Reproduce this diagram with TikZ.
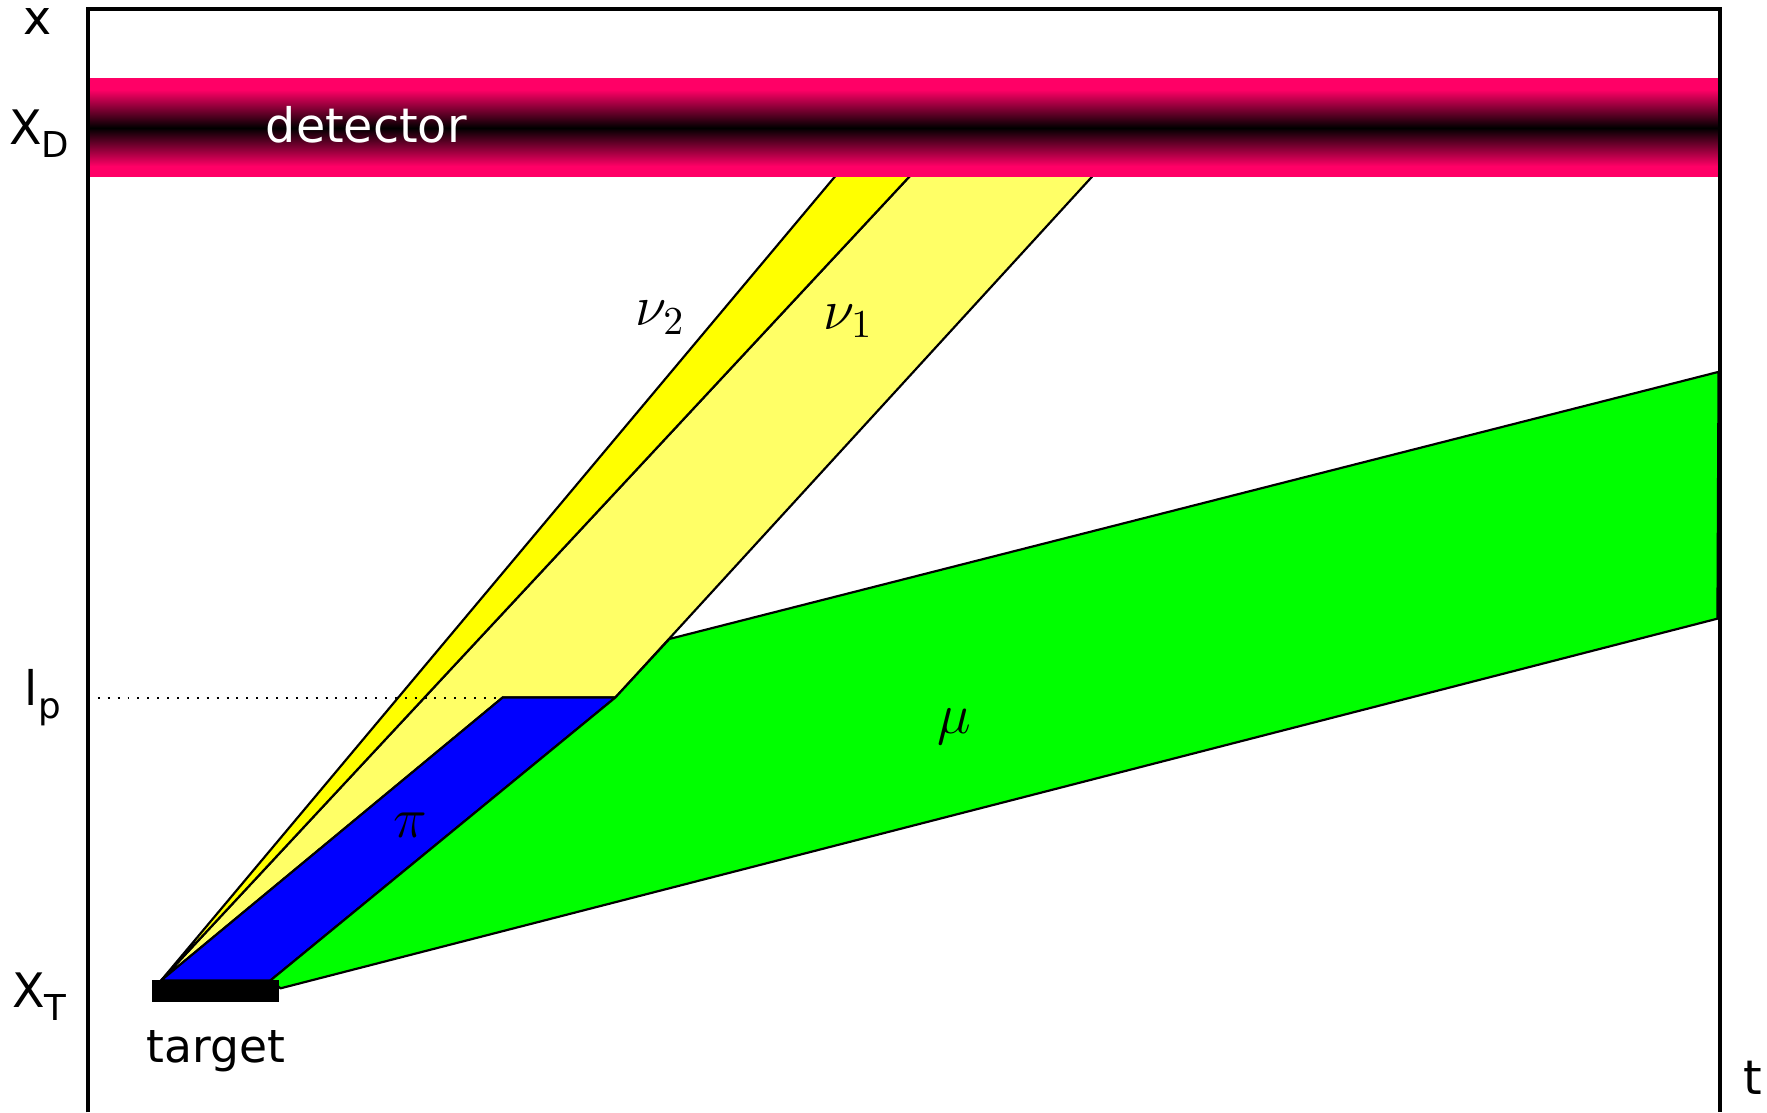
\documentclass[tikz,border=0pt]{standalone}
\usepackage{fontspec}
\setmainfont{DejaVu Sans}
\usetikzlibrary{positioning}
\definecolor{detpink}{RGB}{255,0,102}
\definecolor{nutwo}{RGB}{255,255,0}
\definecolor{nuone}{RGB}{255,255,102}
\definecolor{pion}{RGB}{0,0,255}
\definecolor{muon}{RGB}{0,255,0}
\pgfdeclareverticalshading{detshade}{100bp}{color(0bp)=(detpink); color(25bp)=(detpink);
  color(30.5bp)=(detpink); color(50bp)=(black); color(69.5bp)=(detpink);
  color(75bp)=(detpink); color(100bp)=(detpink)}

\begin{document}
\begin{tikzpicture}[
    beam/.style={draw=black, line width=0.55pt, line join=miter},
    axislabel/.style={font=\fontsize{12}{14}\selectfont, inner sep=0pt},
    greek/.style={font=\fontsize{14}{16}\selectfont, inner sep=0pt}]
    \useasboundingbox (0,0) rectangle (15.68,9.87);

    % corner points of the beams
    \coordinate (O)   at (1.43,1.17);
    \coordinate (B1)  at (2.40,1.17);
    \coordinate (B2)  at (5.46,3.68);
    \coordinate (B3)  at (4.46,3.68);
    \coordinate (nuA) at (7.49,8.40);
    \coordinate (nuB) at (8.16,8.40);
    \coordinate (nuC) at (9.78,8.40);
    \coordinate (G1)  at (5.94,4.20);
    \coordinate (G2)  at (15.25,6.57);
    \coordinate (G3)  at (15.24,4.38);
    \coordinate (G4)  at (2.49,1.10);
    \coordinate (lpaxis) at (0.78,3.68);

    % neutrino beams
    \filldraw[beam, fill=nuone] (O) -- (nuB) -- (nuC) -- (B2) -- (B3) -- cycle;
    \filldraw[beam, fill=nutwo] (O) -- (nuA) -- (nuB) -- cycle;
    \draw[dotted, line width=0.5pt] (lpaxis) -- (B3);

    % pion and muon
    \filldraw[beam, fill=pion] (O) -- (B1) -- (B2) -- (B3) -- cycle;
    \filldraw[beam, fill=muon] (B1) -- (B2) -- (G1) -- (G2) -- (G3) -- (G4) -- cycle;

    % target
    \node[fill=black, minimum width=1.13cm, minimum height=0.19cm, inner sep=0pt]
        (target) at (1.915,1.075) {};
    \node[axislabel, font=\fontsize{11.5}{14}\selectfont, below=2.4mm of target] (targetlabel) {target};

    % detector band
    \shade[shading=detshade] (0.78,8.30) rectangle (15.26,9.17);
    \node[axislabel, text=white] (detlabel) at (3.25,8.76) {detector};

    % frame
    \draw[line width=1.1pt] (0.78,0) -- (0.78,9.79) -- (15.26,9.79) -- (15.26,0);

    % axis labels
    \node[axislabel] (xlabel)  at (0.33,9.68) {x};
    \node[axislabel] (xdlabel) at (0.35,8.68) {X\raisebox{-0.5ex}{\fontsize{9}{10}\selectfont D}};
    \node[axislabel] (lplabel) at (0.38,3.68) {l\raisebox{-0.5ex}{\fontsize{9}{10}\selectfont p}};
    \node[axislabel] (xtlabel) at (0.35,1.03) {X\raisebox{-0.5ex}{\fontsize{9}{10}\selectfont T}};
    \node[axislabel] (tlabel)  at (15.55,0.31) {t};

    % particle labels
    \node[greek] (nutwolabel) at (5.86,7.05) {$\nu_2$};
    \node[greek] (nuonelabel) at (7.53,7.02) {$\nu_1$};
    \node[greek] (pilabel)    at (3.64,2.55) {$\pi$};
    \node[greek] (mulabel)    at (8.47,3.42) {$\mu$};
\end{tikzpicture}
\end{document}
